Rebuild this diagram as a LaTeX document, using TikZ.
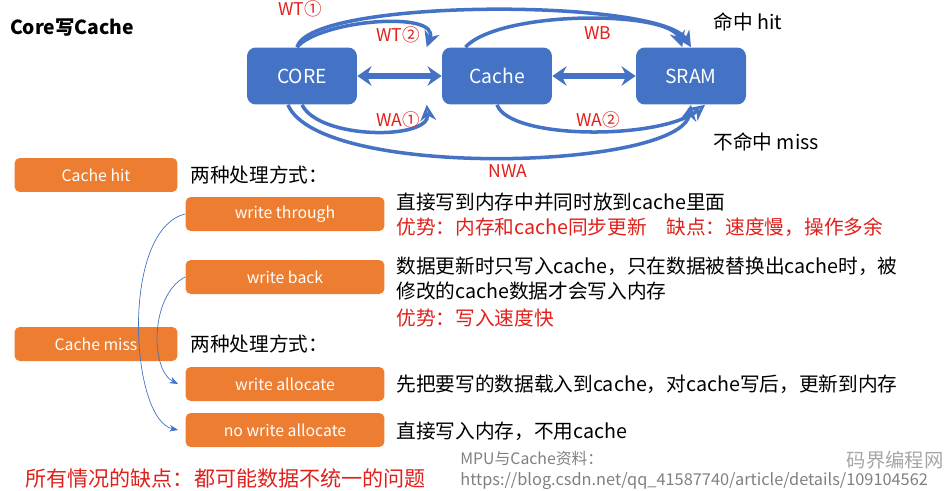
\documentclass[tikz,border=0pt]{standalone}
\usepackage{fontspec}
\setmainfont{Noto Sans CJK SC}
\usetikzlibrary{arrows.meta}
\definecolor{boxblue}{HTML}{4472C4}
\definecolor{boxorange}{HTML}{ED7D31}
\definecolor{txtred}{HTML}{E0201B}
\begin{document}
\begin{tikzpicture}
        [x=0.02cm, y=-0.02cm,
        blk/.style={rectangle, rounded corners=5pt, fill=boxblue, text=white, minimum width=2.2cm, minimum height=1.14cm, font=\fontsize{11}{13}\selectfont},
        tag/.style={rectangle, rounded corners=3pt, fill=boxorange, text=white, minimum height=0.68cm, font=\fontsize{9}{11}\selectfont},
        lbl/.style={text=txtred, font=\fontsize{10}{12}\selectfont},
        txt/.style={anchor=west, font=\fontsize{11.2}{12}\selectfont, inner sep=0pt},
        flow/.style={boxblue, line width=2pt, -{Stealth[length=9pt, width=9pt]}},
        back/.style={boxblue, line width=2pt, -{Stealth[length=9pt, width=9pt, fill=yellow]}},
        link/.style={boxblue, thin, -{Stealth[length=5pt]}}]

        \useasboundingbox (0,0) rectangle (949,490);

        \node[font=\bfseries\fontsize{11}{13}\selectfont] (title) at (72,28) {Core写Cache};

        % top blocks
        \node[blk] (core) at (302,76) {CORE};
        \node[blk] (cache) at (497,76) {Cache};
        \node[blk] (sram) at (691,76) {SRAM};
        \draw[boxblue, line width=3pt, {Stealth[length=8pt,width=11pt]}-{Stealth[length=8pt,width=11pt]}] (core) -- (cache);
        \draw[boxblue, line width=3pt, {Stealth[length=8pt,width=11pt]}-{Stealth[length=8pt,width=11pt]}] (cache) -- (sram);

        % hit arcs
        \draw[flow] (core.north) ++(-5,0) coordinate (c1) .. controls (310,-2) and (660,-2) .. (sram.north);
        \draw[flow] (c1) .. controls (320,20) and (440,10) .. ([xshift=-40]cache.north);
        \draw[flow] ([xshift=-18]cache.north) .. controls (500,10) and (670,10) .. ([xshift=-5]sram.north);

        % miss arcs
        \draw[back] (core.south) .. controls (320,140) and (430,140) .. ([xshift=-40]cache.south);
        \draw[flow] ([xshift=-8]core.south) .. controls (320,180) and (680,170) .. (sram.south);
        \draw[back] (cache.south) .. controls (510,140) and (660,140) .. ([xshift=8]sram.south);

        \node[lbl] (wt1) at (300,9) {WT①};
        \node[lbl] (wt2) at (398,35) {WT②};
        \node[lbl] (wb) at (598,33) {WB};
        \node[lbl] (wa1) at (398,120) {WA①};
        \node[lbl] (wa2) at (598,120) {WA②};
        \node[lbl] (nwa) at (508,171) {NWA};
        \node[txt] (hit) at (713,22) {命中 hit};
        \node[txt] (miss) at (713,142) {不命中 miss};

        % left tags
        \node[tag, minimum width=3.26cm] (chit) at (96,175) {Cache hit};
        \node[tag, minimum width=3.26cm] (cmiss) at (96,344) {Cache miss};
        \node[tag, minimum width=3.98cm] (wthr) at (285,214) {write through};
        \node[tag, minimum width=3.98cm] (wback) at (285,277) {write back};
        \node[tag, minimum width=3.98cm] (walloc) at (285,384) {write allocate};
        \node[tag, minimum width=3.98cm] (nwalloc) at (285,430) {no write allocate};

        \draw[link] (wthr.west) .. controls (120,230) and (130,420) .. ([xshift=-4]nwalloc.west);
        \draw[link] (wback.west) .. controls (150,295) and (150,370) .. ([xshift=-4]walloc.west);

        % descriptions
        \node[txt] (m1) at (190,175) {两种处理方式：};
        \node[txt] (m2) at (190,344) {两种处理方式：};
        \node[txt] (d1) at (396,202) {直接写到内存中并同时放到cache里面};
        \node[txt, text=txtred] (d2) at (396,227) {优势：内存和cache同步更新\quad 缺点：速度慢，操作多余};
        \node[txt] (d3) at (396,266) {数据更新时只写入cache，只在数据被替换出cache时，被};
        \node[txt] (d4) at (396,291) {修改的cache数据才会写入内存};
        \node[txt, text=txtred] (d5) at (396,318) {优势：写入速度快};
        \node[txt] (d6) at (396,384) {先把要写的数据载入到cache，对cache写后，更新到内存};
        \node[txt] (d7) at (396,431) {直接写入内存，不用cache};
        \node[txt, text=txtred, font=\fontsize{12}{14}\selectfont] (note) at (25,478) {所有情况的缺点：都可能数据不统一的问题};

        % watermark
        \node[txt, text=gray, font=\fontsize{9}{10}\selectfont] (wm1) at (460,458) {MPU与Cache资料：};
        \node[txt, text=gray, font=\fontsize{9.3}{10}\selectfont] (wm2) at (460,481) {https://blog.csdn.net/qq\_41587740/article/details/109104562};
        \node[text=gray!70, font=\fontsize{11}{13}\selectfont, inner sep=0pt] (logo) at (895,460) {码界编程网};
\end{tikzpicture}
\end{document}
